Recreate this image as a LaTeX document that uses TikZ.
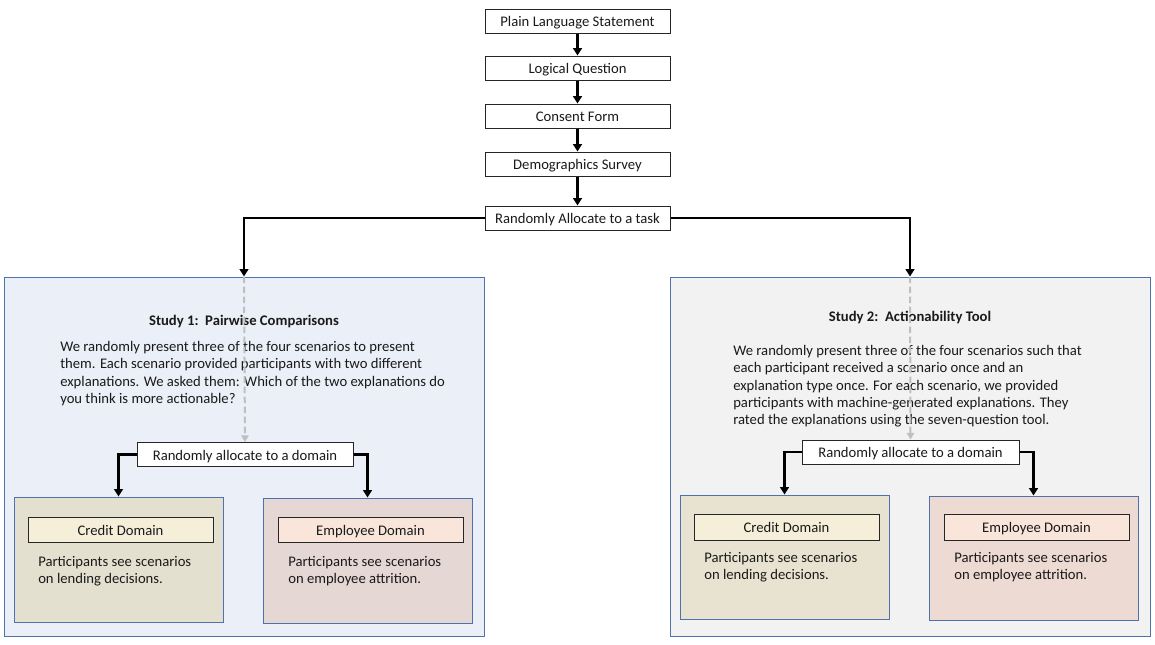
\documentclass[tikz,border=0pt]{standalone}
\usepackage{fontspec}
\setmainfont{Carlito}
\usetikzlibrary{arrows.meta}
\definecolor{txt}{HTML}{1A1A1A}
\definecolor{sonefill}{HTML}{EBEFF7}
\definecolor{stwofill}{HTML}{F2F2F2}
\definecolor{sborder}{HTML}{4F72AE}
\definecolor{credfill}{HTML}{E4E0D0}
\definecolor{credinner}{HTML}{F5EFDA}
\definecolor{empfill}{HTML}{E5D8D4}
\definecolor{empinner}{HTML}{F9E5DA}
\definecolor{credfillb}{HTML}{E8E3D0}
\definecolor{empfillb}{HTML}{EDDAD3}
\definecolor{dashgray}{HTML}{BFBFBF}
\begin{document}
\begin{tikzpicture}[x=0.75pt,y=-0.75pt,
  every node/.style={font=\fontsize{11}{13}\selectfont, text=txt, inner sep=0pt},
  flowbox/.style={draw=black!85, line width=0.75pt, fill=white, minimum width=185\pxu, minimum height=24\pxu, text height=8.5pt, text depth=0pt},
  studybox/.style={draw=sborder, line width=0.75pt, minimum width=480\pxu, minimum height=359\pxu},
  domainbox/.style={draw=sborder, line width=0.75pt, minimum width=209\pxu, minimum height=125\pxu},
  innerbox/.style={draw=black!85, line width=0.75pt, minimum width=185\pxu, minimum height=25\pxu, text height=8.5pt, text depth=0pt},
  arr/.style={line width=1.9pt, -{Triangle[width=6.5pt,length=5.5pt]}},
  dasharr/.style={dashgray, line width=1.5pt, dash pattern=on 5pt off 2.5pt, -{Triangle[width=5.5pt,length=5pt]}},
  para/.style={anchor=north west, align=left},
]
\def\pxu{*0.75pt}
\useasboundingbox (0,0) rectangle (1155,644);
\fill[white] (0,0) rectangle (1155,644);

% top chain
\node[flowbox] (pls) at (577.5,21) {Plain Language Statement};
\node[flowbox] (lq) at (577.5,68) {Logical Question};
\node[flowbox] (cf) at (577.5,116) {Consent Form};
\node[flowbox] (ds) at (577.5,164) {Demographics Survey};
\node[flowbox] (ra) at (577.5,218) {Randomly Allocate to a task};
\draw[arr] (pls) -- (lq);
\draw[arr] (lq) -- (cf);
\draw[arr] (cf) -- (ds);
\draw[arr] (ds) -- (ra);

% study boxes
\node[studybox, fill=sonefill] (s1) at (244,456.5) {};
\node[studybox, fill=stwofill] (s2) at (910,456.5) {};
\draw[arr] (ra.west) -| (s1.north);
\draw[arr] (ra.east) -| (s2.north);

% study 1 content
\node[font=\fontsize{11}{13}\selectfont\bfseries] (t1) at (244,321) {Study 1:\ \ Pairwise Comparisons};
\node[para] (p1) at (60,341) {We randomly present three of the four scenarios to present\\them. Each scenario provided participants with two different\\explanations. We asked them: Which of the two explanations do\\you think is more actionable?};
\node[flowbox, minimum width=216\pxu] (d1) at (245,454.5) {Randomly allocate to a domain};
\draw[dasharr] (s1.north) -- (d1.north);

\node[domainbox, fill=credfill] (c1) at (118.5,559.5) {};
\node[innerbox, fill=credinner] (ci1) at (120.5,529.5) {Credit Domain};
\node[para] (ct1) at (38,556) {Participants see scenarios\\on lending decisions.};
\node[domainbox, fill=empfill] (e1) at (367.5,560.5) {};
\node[innerbox, fill=empinner] (ei1) at (370.5,529.5) {Employee Domain};
\node[para] (et1) at (288,556) {Participants see scenarios\\on employee attrition.};
\draw[arr] (d1.west) -| (c1.north);
\draw[arr] (d1.east) -| (e1.north);

% study 2 content
\node[font=\fontsize{11}{13}\selectfont\bfseries] (t2) at (910,317) {Study 2:\ \ Actionability Tool};
\node[para] (p2) at (733,345) {We randomly present three of the four scenarios such that\\each participant received a scenario once and an\\explanation type once. For each scenario, we provided\\participants with machine-generated explanations. They\\rated the explanations using the seven-question tool.};
\node[flowbox, minimum width=217\pxu] (d2) at (910.5,452) {Randomly allocate to a domain};
\draw[dasharr] (s2.north) -- (d2.north);

\node[domainbox, fill=credfillb, minimum height=124\pxu] (c2) at (784.5,557) {};
\node[innerbox, fill=credinner, minimum height=26\pxu] (ci2) at (786.5,527) {Credit Domain};
\node[para] (ct2) at (704,552) {Participants see scenarios\\on lending decisions.};
\node[domainbox, fill=empfillb, minimum height=124\pxu] (e2) at (1033.5,558) {};
\node[innerbox, fill=empinner, minimum height=26\pxu] (ei2) at (1036.5,527) {Employee Domain};
\node[para] (et2) at (954,552) {Participants see scenarios\\on employee attrition.};
\draw[arr] (d2.west) -| (c2.north);
\draw[arr] (d2.east) -| (e2.north);
\end{tikzpicture}
\end{document}
